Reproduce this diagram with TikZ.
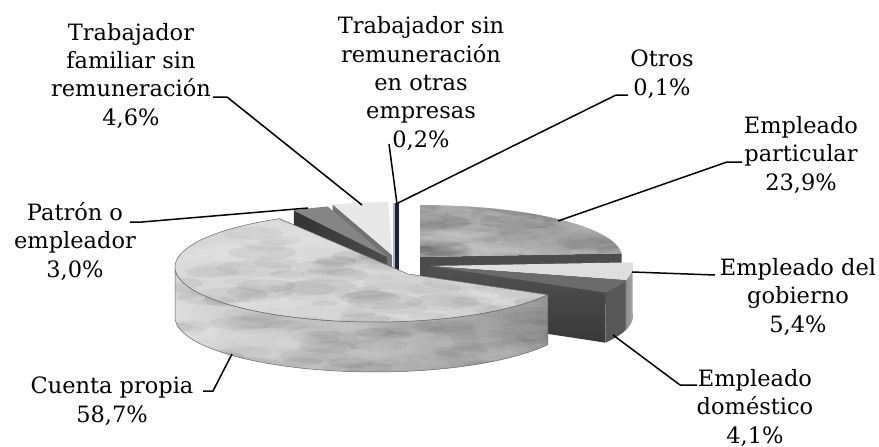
\documentclass[tikz,border=0pt]{standalone}
\usepackage{fontspec}
\setmainfont{DejaVu Serif}
\newcommand{\lblfont}{\fontsize{22.5}{28.3}\selectfont}
\newcommand{\pieTop}[7]{\path[#7] (#1,#2) -- plot[domain=#5:#6,variable=\t,samples=60] ({#1+#3*cos(\t)},{#2-#4*sin(\t)}) -- cycle;}
\newcommand{\pieWall}[8]{\path[#8] plot[domain=#5:#6,variable=\t,samples=60] ({#1+#3*cos(\t)},{#2-#4*sin(\t)}) -- plot[domain=#6:#5,variable=\t,samples=60] ({#1+#3*cos(\t)},{#2+#7-#4*sin(\t)}) -- cycle;}
\newcommand{\pieCut}[7]{\path[#7] (#1,#2) -- ({#1+#3*cos(#5)},{#2-#4*sin(#5)}) -- ({#1+#3*cos(#5)},{#2+#6-#4*sin(#5)}) -- (#1,{#2+#6}) -- cycle;}
% soft mottled texture: x0 y0 w h count
\newcommand{\mottle}[5]{%
  \foreach \i in {1,...,#5}{%
    \pgfmathsetmacro{\mx}{#1+rnd*#3}%
    \pgfmathsetmacro{\my}{#2+rnd*#4}%
    \pgfmathsetmacro{\mr}{5+rnd*12}%
    \pgfmathsetmacro{\mo}{0.03+rnd*0.05}%
    \fill[white, opacity=\mo] (\mx,\my) ellipse [x radius={2.6*\mr}, y radius={0.55*\mr}];
    \pgfmathsetmacro{\mx}{#1+rnd*#3}%
    \pgfmathsetmacro{\my}{#2+rnd*#4}%
    \pgfmathsetmacro{\mr}{5+rnd*10}%
    \pgfmathsetmacro{\mo}{0.02+rnd*0.04}%
    \fill[black, opacity=\mo] (\mx,\my) ellipse [x radius={2.6*\mr}, y radius={0.55*\mr}];
  }}
\definecolor{navy}{rgb}{0.11,0.13,0.25}
\definecolor{otrosc}{rgb}{0.68,0.70,0.78}
\begin{document}
\begin{tikzpicture}[x=1pt,y=-1pt,
  lbl/.style={font=\lblfont, align=center, anchor=base, inner sep=0pt},
  lead/.style={draw=black, line width=1.5pt},
  outl/.style={draw=black!60, line width=0.5pt}]
\pgfmathsetseed{7}
\useasboundingbox (0,0) rectangle (879,447);
% ---- back slices ----
\pieCut{392}{255}{195}{53}{107.7}{50}{fill=black!55}
\pieTop{392}{255}{195}{53}{91.1}{107.7}{fill=black!9}
\path[fill=otrosc] (393,203) rectangle (395,275);
\path[fill=navy] (395,203) rectangle (399,275);
\pieCut{387}{257}{195}{53}{118.5}{50}{left color=black!80,right color=black!70}
\pieTop{387}{257}{195}{53}{107.7}{118.5}{fill=black!48}
% ---- Empleado particular ----
\pieCut{420}{257}{202}{52}{3.96}{50}{fill=black!70}
\pieTop{420}{257}{202}{52}{3.96}{90}{fill=black!36,path picture={\mottle{400}{195}{240}{70}{90}}}
% ---- Empleado del gobierno ----
\pieWall{430}{266}{203}{53}{-15.5}{3.96}{50}{left color=black!45,right color=black!35}
\pieTop{430}{266}{203}{53}{-15.5}{3.96}{fill=black!13}
% ---- Empleado domestico ----
\pieCut{430}{266}{203}{53}{-30.2}{50}{top color=black!68,bottom color=black!78}
\pieWall{430}{266}{203}{53}{-30.2}{-15.5}{50}{fill=black!66}
\pieTop{430}{266}{203}{53}{-30.2}{-15.5}{fill=black!58}
% ---- Cuenta propia ----
\pieWall{375}{267}{200}{55}{180}{329.8}{50}{left color=black!14,right color=black!42,outl,path picture={\mottle{150}{255}{420}{130}{120}}}
\path[fill=black!16,outl,path picture={\mottle{150}{200}{420}{135}{140}}] (408,274) -- plot[domain=118.5:329.8,variable=\t,samples=80] ({375+200*cos(\t)},{267-55*sin(\t)}) -- cycle;
% ---- anchor points on the pie ----
\coordinate (famP) at (362,205);
\coordinate (sinP) at (397,204);
\coordinate (otrP) at (398,203);
\coordinate (parP) at (558,221);
\coordinate (gobP) at (632,272);
\coordinate (domP) at (613,335);
\coordinate (ctaP) at (232,354);
\coordinate (patP) at (308,208);
% ---- labels (anchor = baseline of last line) ----
\node[lbl] (fam) at (131,125) {Trabajador\\familiar sin\\remuneración\\4,6\%};
\node[lbl] (sinrem) at (421,147) {Trabajador sin\\remuneración\\en otras\\empresas\\0,2\%};
\node[lbl] (otros) at (662,95) {Otros\\0,1\%};
\node[lbl] (part) at (801,190) {Empleado\\particular\\23,9\%};
\node[lbl] (gob) at (798,332) {Empleado del\\gobierno\\5,4\%};
\node[lbl] (dom) at (755,443) {Empleado\\doméstico\\4,1\%};
\node[lbl] (cta) at (112,422) {Cuenta propia\\58,7\%};
\node[lbl] (pat) at (75,277) {Patrón o\\empleador\\3,0\%};
% ---- leader start points ----
\coordinate (famA) at (213,97);  \coordinate (famB) at (227,97);
\coordinate (sinA) at (389,144);
\coordinate (otrA) at (628,95);  \coordinate (otrB) at (616,95);
\coordinate (parA) at (742,162); \coordinate (parB) at (727,162);
\coordinate (gobA) at (715,275);
\coordinate (domA) at (697,385); \coordinate (domB) at (680,385);
\coordinate (ctaA) at (203,391); \coordinate (ctaB) at (213,391);
\coordinate (patA) at (130,222); \coordinate (patB) at (142,222);
\draw[lead] (famA) -- (famB) -- (famP);
\draw[lead] (sinA) -- (sinP);
\draw[lead] (otrA) -- (otrB) -- (otrP);
\draw[lead] (parA) -- (parB) -- (parP);
\draw[lead] (gobA) -- (gobP);
\draw[lead] (domA) -- (domB) -- (domP);
\draw[lead] (ctaA) -- (ctaB) -- (ctaP);
\draw[lead] (patA) -- (patB) -- (patP);
\end{tikzpicture}
\end{document}
